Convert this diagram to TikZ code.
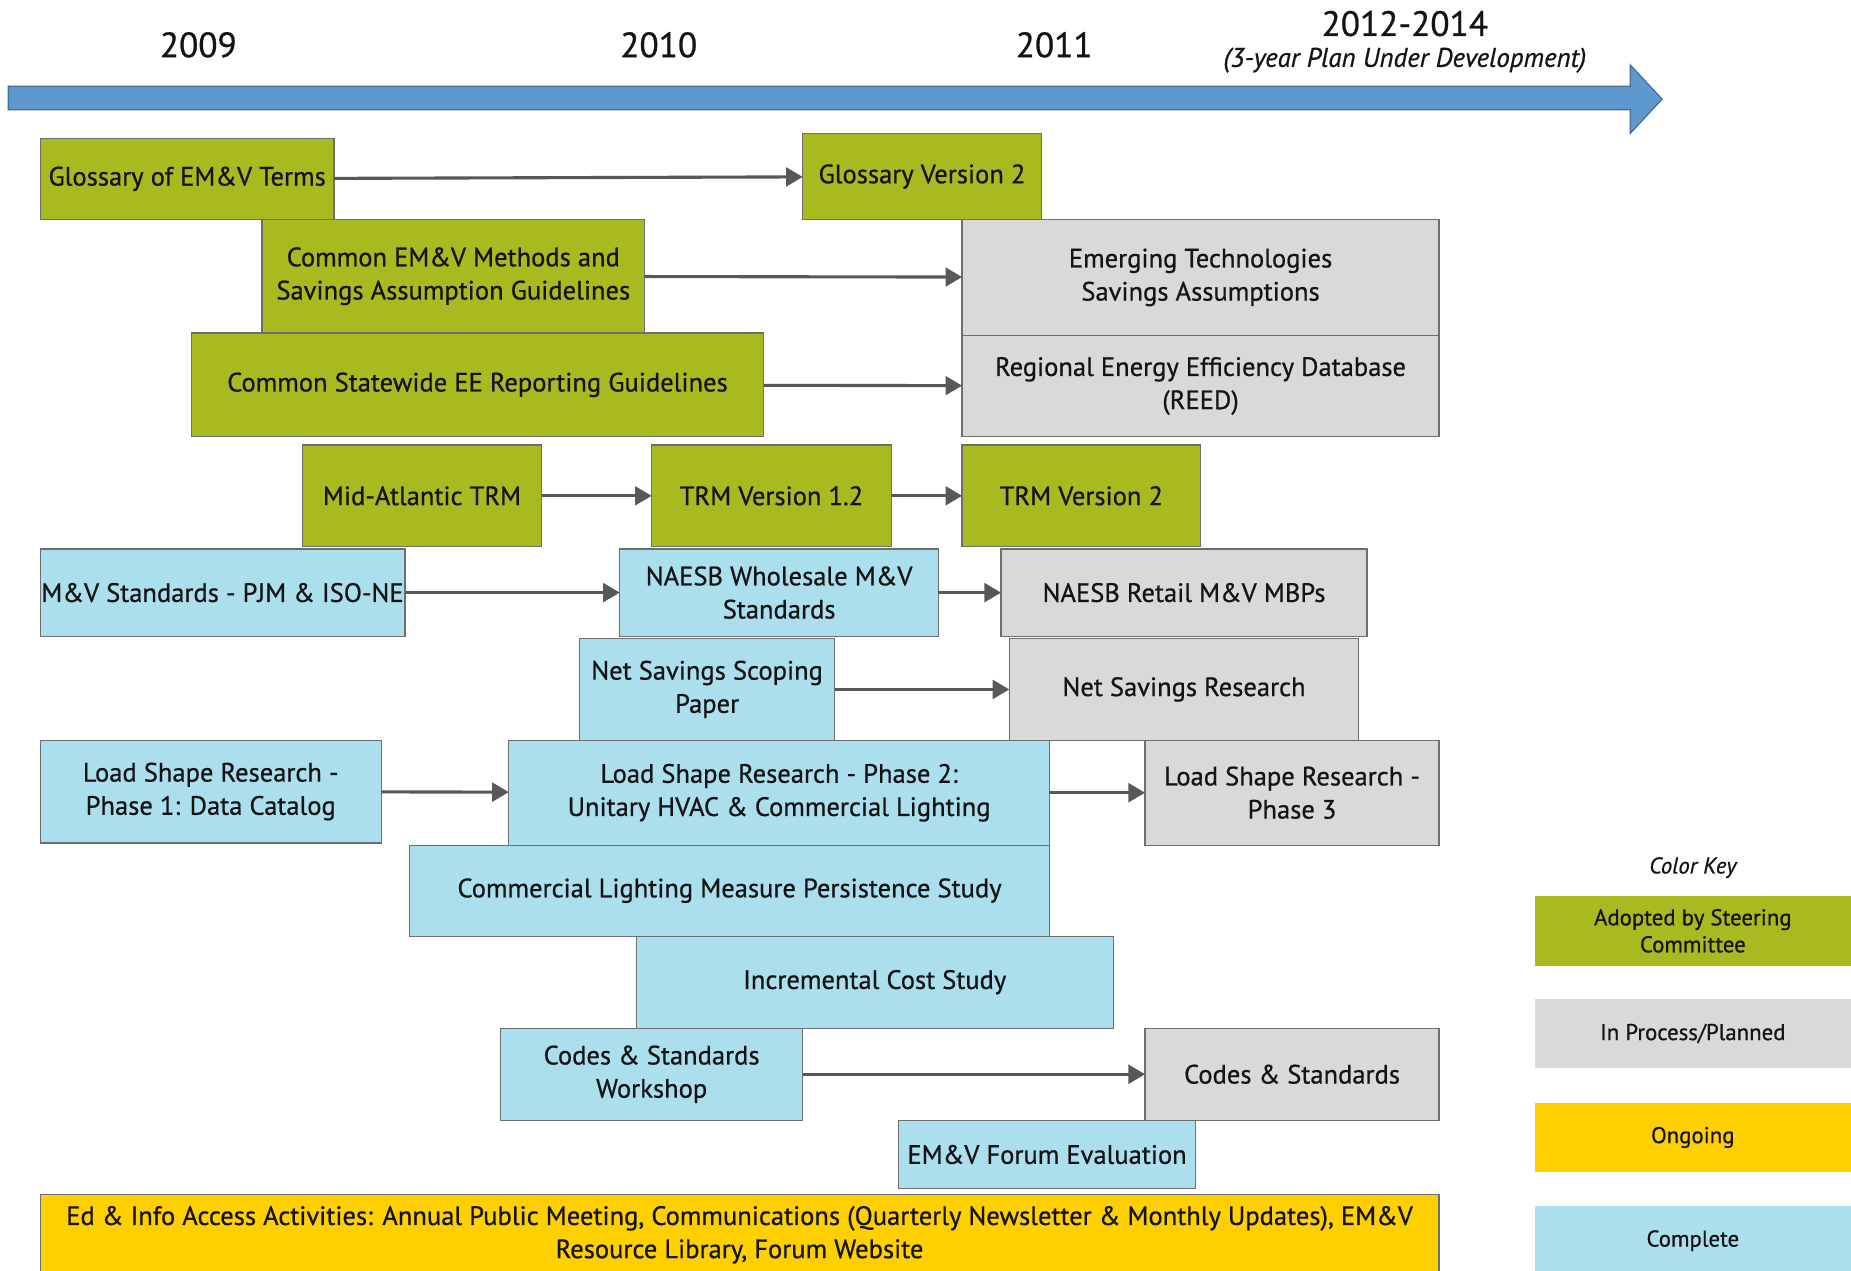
\documentclass[tikz,border=0pt]{standalone}
\usepackage{fontspec}
\setmainfont{PT Sans}[FakeBold=0.7]
\usetikzlibrary{arrows.meta}

\definecolor{adoptgreen}{RGB}{169,185,32}
\definecolor{plangray}{RGB}{217,217,217}
\definecolor{doneblue}{RGB}{172,223,238}
\definecolor{ongoyellow}{RGB}{255,208,0}
\definecolor{timeblue}{RGB}{93,152,206}
\definecolor{timeedge}{RGB}{70,110,150}
\definecolor{boxedge}{RGB}{110,110,110}
\definecolor{linkgray}{RGB}{88,88,88}

\tikzset{
  box/.style={draw=boxedge, line width=0.6pt, anchor=north west, align=center,
    inner sep=0.5pt, outer sep=0pt, text=black!92},
  wh/.style 2 args={minimum width=#1*0.02cm, minimum height=#2*0.02cm},
  adopted/.style={box, fill=adoptgreen},
  planned/.style={box, fill=plangray},
  done/.style={box, fill=doneblue},
  ongoing/.style={box, fill=ongoyellow},
  keybox/.style={box, draw=none, font=\fontsize{11}{13}\selectfont},
  year/.style={font=\fontsize{17}{20}\selectfont, text=black!92},
  link/.style={->, draw=linkgray, line width=1.5pt},
}

\begin{document}
\begin{tikzpicture}[x=0.02cm, y=-0.02cm, >={Triangle[length=8pt,width=9pt]},
    font=\fontsize{12.8}{16}\selectfont]
  \useasboundingbox (0,0) rectangle (1568,1076);
  \clip (0,0) rectangle (1568,1076);

  % timeline
  \filldraw[fill=timeblue, draw=timeedge, line width=0.6pt]
    (7,73) -- (1381,73) -- (1381,55) -- (1408,84) -- (1381,113) -- (1381,93) -- (7,93) -- cycle;
  \node[year] (y2009) at (168,38) {2009};
  \node[year] (y2010) at (558,38) {2010};
  \node[year] (y2011) at (893,38) {2011};
  \node[year] (y2012) at (1190,20) {2012-2014};
  \node[font=\itshape\fontsize{13}{16}\selectfont, text=black!92] (plan) at (1190,51)
    {(3-year Plan Under Development)};

  % adopted by steering committee
  \node[adopted, wh={249}{69}] (gloss) at (34,117) {Glossary of EM\&V Terms};
  \node[adopted, wh={202}{73}] (gloss2) at (680,113) {Glossary Version 2};
  \node[adopted, wh={324}{96}] (methods) at (222,186) {Common EM\&V Methods and\\Savings Assumption Guidelines};
  \node[adopted, wh={485}{88}] (report) at (162,282) {Common Statewide EE Reporting Guidelines};
  \node[adopted, wh={203}{86}] (trm) at (256,377) {Mid-Atlantic TRM};
  \node[adopted, wh={203}{86}] (trm12) at (552,377) {TRM Version 1.2};
  \node[adopted, wh={202}{86}] (trm2) at (815,377) {TRM Version 2};

  % in process / planned
  \node[planned, wh={404}{98}] (emerge) at (815,186) {Emerging Technologies\\Savings Assumptions};
  \node[planned, wh={404}{86}] (reed) at (815,284) {Regional Energy Efficiency Database\\(REED)};
  \node[planned, wh={310}{74}] (retail) at (848,465) {NAESB Retail M\&V MBPs};
  \node[planned, wh={296}{86}] (netres) at (855,541) {Net Savings Research};
  \node[planned, wh={249}{89}] (load3) at (970,627) {Load Shape Research -\\Phase 3};
  \node[planned, wh={249}{78}] (codes) at (970,871) {Codes \& Standards};

  % complete
  \node[done, wh={309}{74}] (mvstd) at (34,465) {M\&V Standards - PJM \& ISO-NE};
  \node[done, wh={270}{74}] (whole) at (525,465) {NAESB Wholesale M\&V\\Standards};
  \node[done, wh={216}{86}] (netscope) at (491,541) {Net Savings Scoping\\Paper};
  \node[done, wh={289}{87}] (load1) at (34,627) {Load Shape Research -\\Phase 1: Data Catalog};
  \node[done, wh={458}{89}] (load2) at (431,627) {Load Shape Research - Phase 2:\\Unitary HVAC \& Commercial Lighting};
  \node[done, wh={542}{77}] (persist) at (347,716) {Commercial Lighting Measure Persistence Study};
  \node[done, wh={404}{78}] (cost) at (539,793) {Incremental Cost Study};
  \node[done, wh={256}{78}] (workshop) at (424,871) {Codes \& Standards\\Workshop};
  \node[done, wh={252}{58}] (evalu) at (761,949) {EM\&V Forum Evaluation};

  % ongoing
  \node[ongoing, wh={1185}{68}] (edinfo) at (34,1012)
    {Ed \& Info Access Activities: Annual Public Meeting, Communications (Quarterly Newsletter \& Monthly Updates), EM\&V\\Resource Library, Forum Website};

  % links
  \draw[link] (gloss) -- (gloss2);
  \draw[link] (methods) -- (emerge);
  \draw[link] (report) -- (reed);
  \draw[link] (trm) -- (trm12);
  \draw[link] (trm12) -- (trm2);
  \draw[link] (mvstd) -- (whole);
  \draw[link] (whole) -- (retail);
  \draw[link] (netscope) -- (netres);
  \draw[link] (load1) -- (load2);
  \draw[link] (load2) -- (load3);
  \draw[link] (workshop) -- (codes);

  % color key
  \node[font=\itshape\fontsize{11}{13}\selectfont, text=black!92] (keytitle) at (1434,735) {Color Key};
  \node[keybox, fill=adoptgreen, wh={268}{59}] (keyadopt) at (1300,759) {Adopted by Steering\\Committee};
  \node[keybox, fill=plangray, wh={268}{59}] (keyplan) at (1300,846) {In Process/Planned};
  \node[keybox, fill=ongoyellow, wh={268}{59}] (keyongo) at (1300,934) {Ongoing};
  \node[keybox, fill=doneblue, wh={268}{58}] (keydone) at (1300,1022) {Complete};
\end{tikzpicture}
\end{document}
